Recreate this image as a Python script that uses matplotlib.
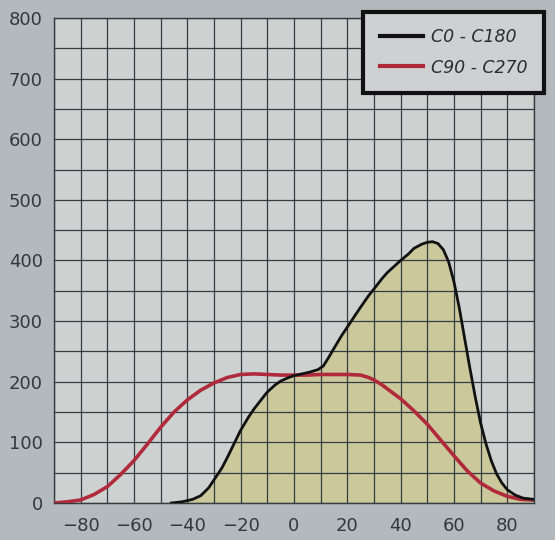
import matplotlib
matplotlib.use("Agg")
import matplotlib.pyplot as plt
import numpy as np

# C0 - C180 (black)
c0_angle = [-46, -42, -38, -35, -32, -30, -27, -25, -22, -20, -17, -15, -12, -10, -7, -5, -2, 0,
            3, 6, 9, 11, 13, 15, 18, 20, 23, 25, 28, 30, 33, 35, 38, 40, 43, 45, 48, 50, 52,
            54, 56, 58, 60, 62, 64, 66, 68, 70, 72, 74, 76, 78, 80, 83, 86, 90]
c0_value = [0, 2, 6, 12, 25, 38, 58, 75, 102, 120, 142, 155, 172, 183, 195, 201, 207, 210,
            213, 216, 220, 226, 240, 255, 277, 290, 310, 323, 342, 353, 370, 380, 392, 400, 411, 420, 427, 430, 431,
            428, 418, 398, 365, 322, 272, 222, 175, 132, 98, 70, 48, 33, 22, 13, 8, 6]

# C90 - C270 (red)
c90_angle = [-90, -85, -80, -75, -70, -65, -60, -55, -50, -45, -40, -35, -30, -25, -20, -15, -10, -5,
             0, 5, 10, 15, 20, 25, 28, 30, 33, 36, 40, 45, 50, 55, 60, 65, 70, 75, 80, 85, 90]
c90_value = [0, 2, 5, 14, 27, 47, 70, 97, 125, 150, 170, 186, 198, 207, 212, 213, 212, 211,
             211, 211, 212, 212, 212, 211, 207, 203, 195, 185, 172, 152, 130, 104, 78, 53, 33, 20, 11, 6, 5]

x_ticks = [-80, -60, -40, -20, 0, 20, 40, 60, 80]
y_ticks = [0, 100, 200, 300, 400, 500, 600, 700, 800]
labels = ["C0 - C180", "C90 - C270"]

fig = plt.figure(figsize=(5.55, 5.40), dpi=100)
fig.patch.set_facecolor("#b3b9bc")
ax = fig.add_axes([0.0973, 0.0685, 0.8647, 0.8982])
ax.set_facecolor("#cdd2d1")

ax.fill_between(c0_angle, c0_value, 0, color="#cbc89c", zorder=1, linewidth=0)
ax.plot(c0_angle, c0_value, color="#111111", lw=2.0, zorder=4, label=labels[0])
ax.plot(c90_angle, c90_value, color="#b02a3c", lw=2.6, zorder=3, label=labels[1])

ax.set_xlim(-90, 90)
ax.set_ylim(0, 800)
ax.set_xticks(np.arange(-90, 91, 10), minor=True)
ax.set_yticks(np.arange(0, 801, 50), minor=True)
ax.set_xticks(x_ticks)
ax.set_yticks(y_ticks)
ax.grid(True, which="both", color="#343c42", lw=0.9, zorder=2)
ax.set_axisbelow(False)
for s in ax.spines.values():
    s.set_color("#343c42")
    s.set_linewidth(1.0)
ax.tick_params(which="both", length=0)
ax.tick_params(axis="y", pad=8, labelsize=13, labelcolor="#33383d")
ax.tick_params(axis="x", pad=10, labelsize=13, labelcolor="#33383d")

leg = ax.legend(loc="upper right", bbox_to_anchor=(0.98, 0.978), bbox_transform=fig.transFigure,
                prop={"style": "italic", "size": 12.5}, frameon=True, fancybox=False,
                borderpad=0.95, labelspacing=0.7, handlelength=2.5, handletextpad=0.45,
                borderaxespad=0)
leg.get_frame().set_edgecolor("#111111")
leg.get_frame().set_linewidth(3.0)
leg.get_frame().set_facecolor("#cdd1d1")
leg.get_frame().set_alpha(1)
for line in leg.get_lines():
    line.set_linewidth(3.0)
for t in leg.get_texts():
    t.set_color("#2a2e33")
leg.set_zorder(10)

fig.savefig("out.png", dpi=100, facecolor=fig.get_facecolor())
